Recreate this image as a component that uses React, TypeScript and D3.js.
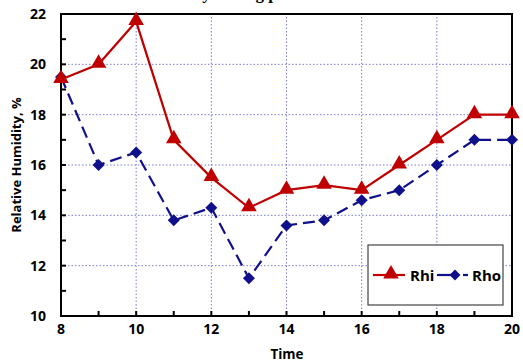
import React from 'react';
import * as d3 from 'd3';

const hours = [8, 9, 10, 11, 12, 13, 14, 15, 16, 17, 18, 19, 20];
const rhi = [19.4, 20, 21.7, 17, 15.5, 14.3, 15, 15.2, 15, 16, 17, 18, 18];
const rho = [19.5, 16, 16.5, 13.8, 14.3, 11.5, 13.6, 13.8, 14.6, 15, 16, 17, 17];
const xTicks = [8, 10, 12, 14, 16, 18, 20];
const yTicks = [10, 12, 14, 16, 18, 20, 22];

const W = 523;
const H = 363;
const margin = { left: 61, right: 11, top: 14, bottom: 47 };

const App = () => {
    const x = d3.scaleLinear().domain([8, 20]).range([margin.left, W - margin.right]);
    const y = d3.scaleLinear().domain([10, 22]).range([H - margin.bottom, margin.top]);

    const line = d3.line<number>()
        .x((d, i) => x(hours[i]))
        .y(d => y(d));

    const minorX = d3.range(8, 21, 1);
    const minorY = d3.range(10, 23, 1);
    const font = "'Open Sans', sans-serif";
    const red = '#c00000';
    const blue = '#10108a';

    const tri = d3.symbol().type(d3.symbolTriangle).size(105)();
    const diamond = (s: number) => `M0,${-s}L${s},0L0,${s}L${-s},0Z`;

    return (
        <svg width={W} height={H} style={{ position: 'absolute', left: 0, top: 0 }}>
            <rect width={W} height={H} fill="#fff" />
            {/* title sits above the picture; only its descenders show */}
            <text x={215} y={-1.5} textAnchor="middle" fontFamily="'Liberation Serif', serif" fontWeight="bold" fontSize={17}>
                Relative humidity during peak hours
            </text>
            {/* grid */}
            {xTicks.slice(1, -1).map(t => (
                <line key={'gx' + t} x1={x(t)} x2={x(t)} y1={y(10)} y2={y(22)}
                    stroke="#7a7ad8" strokeWidth={1} strokeDasharray="1.5,2" />
            ))}
            {yTicks.slice(1, -1).map(t => (
                <line key={'gy' + t} x1={x(8)} x2={x(20)} y1={y(t)} y2={y(t)}
                    stroke="#7a7ad8" strokeWidth={1} strokeDasharray="1.5,2" />
            ))}
            {/* minor ticks, inward */}
            {minorX.map(t => (
                <line key={'tx' + t} x1={x(t)} x2={x(t)} y1={y(10)} y2={y(10) - 5} stroke="#000" strokeWidth={2} />
            ))}
            {minorY.map(t => (
                <line key={'ty' + t} x1={x(8)} x2={x(8) + 5} y1={y(t)} y2={y(t)} stroke="#000" strokeWidth={2} />
            ))}
            <rect x={x(8)} y={y(22)} width={x(20) - x(8)} height={y(10) - y(22)}
                fill="none" stroke="#000" strokeWidth={2} />

            {/* series */}
            <path d={line(rho) || ''} fill="none" stroke={blue} strokeWidth={2.2} strokeDasharray="12,6" />
            {rho.map((v, i) => (
                <path key={'d' + i} d={diamond(6)} transform={`translate(${x(hours[i])},${y(v)})`} fill={blue} />
            ))}
            <path d={line(rhi) || ''} fill="none" stroke={red} strokeWidth={2.2} />
            {rhi.map((v, i) => (
                <path key={'t' + i} d={tri || ''} transform={`translate(${x(hours[i])},${y(v) - 1})`} fill={red} />
            ))}

            {/* tick labels */}
            {xTicks.map(t => (
                <text key={'lx' + t} x={x(t)} y={334} textAnchor="middle" fontFamily={font} fontWeight="bold" fontSize={14}>{t}</text>
            ))}
            {yTicks.map(t => (
                <text key={'ly' + t} x={46} y={y(t) + 5} textAnchor="end" fontFamily={font} fontWeight="bold" fontSize={14}>{t}</text>
            ))}
            <text x={287} y={359} textAnchor="middle" fontFamily={font} fontWeight="bold" fontSize={13.5}>Time</text>
            <text transform={`translate(21,${(y(10) + y(22)) / 2}) rotate(-90)`} textAnchor="middle"
                fontFamily={font} fontWeight="bold" fontSize={13}>Relative Humidity, %</text>

            {/* legend */}
            <g transform="translate(368,245)">
                <rect width={135} height={60} fill="#fff" stroke="#444" strokeWidth={1.2} />
                <line x1={5} x2={37} y1={30} y2={30} stroke={red} strokeWidth={2.2} />
                <path d={tri || ''} transform="translate(23,29)" fill={red} />
                <text x={42} y={35.5} fontFamily={font} fontWeight="bold" fontSize={15}>Rhi</text>
                <line x1={69} x2={85} y1={30} y2={30} stroke={blue} strokeWidth={2.2} />
                <line x1={95} x2={100} y1={30} y2={30} stroke={blue} strokeWidth={2.2} />
                <path d={diamond(5.5)} transform="translate(87,30)" fill={blue} />
                <text x={104} y={35.5} fontFamily={font} fontWeight="bold" fontSize={15}>Rho</text>
            </g>
        </svg>
    );
};

export default App;
